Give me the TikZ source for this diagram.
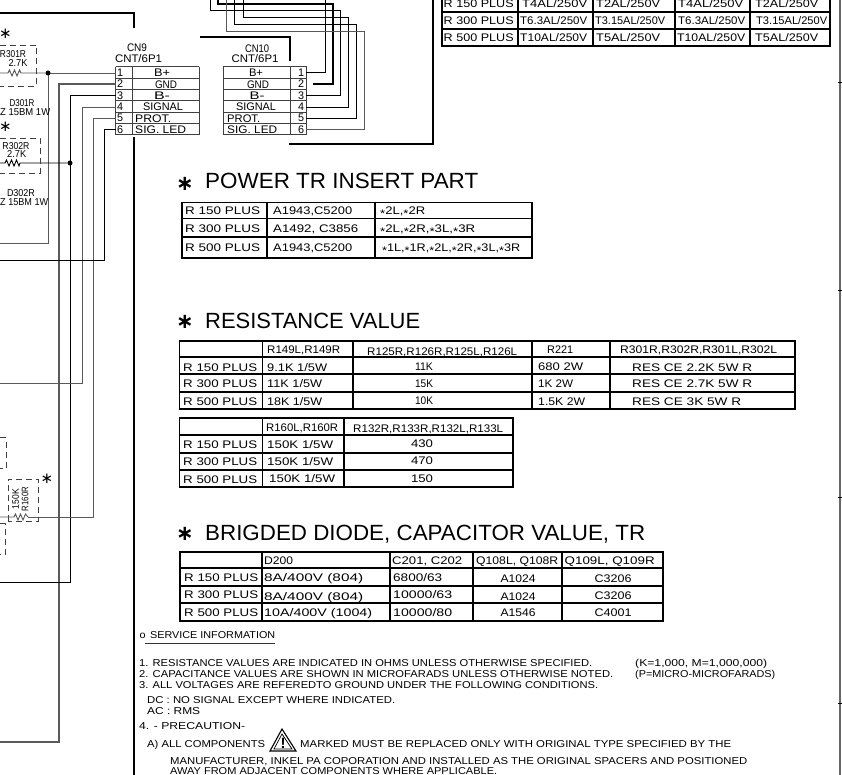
\documentclass[tikz,border=0pt]{standalone}
\usepackage{graphicx}
\usepackage{fontspec}
\setmainfont{Liberation Sans}
\newfontfamily\djv{DejaVu Sans}
\newcounter{tn}
\newcommand\tx[5][]{\stepcounter{tn}\node[txt,#1] (t\arabic{tn}) at (#2,#3) {\resizebox{#4pt}{\height}{#5}};}
\newcommand\cx[5][]{\tx[anchor=base,#1]{#2}{#3}{#4}{#5}}
\newcommand\st{\raisebox{-.22em}{*}}
\tikzset{
  x=1pt,y=-1pt,
  txt/.style={inner sep=0pt,anchor=base west,yshift=-4pt,font=\fontsize{11}{12}\selectfont,text=black},
  small/.style={yshift=.4pt,font=\fontsize{10}{11}\selectfont},
  big/.style={yshift=-4pt,font=\fontsize{22}{24}\selectfont},
  tbl/.style={line width=1.7pt,black,line cap=rect},
  conn/.style={line width=1pt,black!75},
  wire/.style={line width=.9pt,black!65},
  wireb/.style={line width=.9pt,black},
  wirebb/.style={line width=1.7pt,black},
  frame/.style={line width=2pt,black},
  dbox/.style={line width=.9pt,black!75,dash pattern=on 6pt off 4pt},
  dot/.style={circle,fill=black,inner sep=0pt,minimum size=5pt},
  star/.style={inner sep=0pt,font=\djv\fontsize{15}{15}\selectfont},
  bstar/.style={inner sep=0pt,font=\djv\bfseries\fontsize{21}{21}\selectfont},
}
\begin{document}
\begin{tikzpicture}
\useasboundingbox (0,0) rectangle (842,775);
% frames
\coordinate (fa) at (0,13); \coordinate (fb) at (134,28); \coordinate (fc) at (134,137); \coordinate (fd) at (134,775);
\draw[frame] (fa) -- (134,13) -- (fb);
\draw[frame] (fc) -- (fd);
\coordinate (fe) at (200,37.5); \coordinate (ff) at (290,61);
\draw[frame] (fe) -- (290,37.5) -- (ff);
\coordinate (fg) at (289,144.5); \coordinate (fh) at (433,0);
\draw[frame] (fg) -- (433,144.5) -- (fh);
% right border
\coordinate (ra) at (840,0); \coordinate (rb) at (840,775);
\draw[line width=1.5pt,black!60] (ra) -- (rb);
\foreach \yy in {82,290,497,703} {\draw[line width=.8pt,black] (838,\yy) -- (842,\yy);}

% CN9
\foreach \yy in {67,78.5,90,101,112.7,124,135} {\draw[conn] (115.7,\yy) -- (199,\yy);}
\foreach \xx in {115.7,132.7,199} {\draw[conn] (\xx,67) -- (\xx,135);}
\cx{137}{48}{20}{CN9}
\cx{138.5}{59}{47}{CNT/6P1}
\foreach \n/\yy in {1/73,2/84,3/96,4/107,5/118,6/130} {\cx{120}{\yy}{6}{\n}}
\cx{162}{73}{16}{B+}
\cx{166}{85}{22}{GND}
\cx{162}{96}{16}{B-}
\cx{163}{107}{40}{SIGNAL}
\tx{135}{118.5}{36}{PROT.}
\tx{135}{130}{51}{SIG. LED}
% CN10
\foreach \yy in {67,78.5,90,101,112.7,124,135} {\draw[conn] (223,\yy) -- (306.5,\yy);}
\foreach \xx in {223,290,306.5} {\draw[conn] (\xx,67) -- (\xx,135);}
\cx{257}{49}{24}{CN10}
\cx{255}{59}{47}{CNT/6P1}
\foreach \n/\yy in {1/73,2/84,3/96,4/107,5/118,6/130} {\cx{301}{\yy}{6}{\n}}
\cx{256}{73}{14}{B+}
\cx{258}{85}{22}{GND}
\cx{257}{96}{15}{B-}
\cx{256}{107}{40}{SIGNAL}
\tx{227}{118.5}{33}{PROT.}
\tx{227}{130}{50}{SIG. LED}

% pin coordinates
\coordinate (a1) at (116,73); \coordinate (a2) at (116,84); \coordinate (a3) at (116,95);
\coordinate (a4) at (116,107); \coordinate (a5) at (116,118); \coordinate (a6) at (116,129);
\coordinate (b1) at (306,72); \coordinate (b2) at (313,84); \coordinate (b3) at (306,95.5);
\coordinate (b4) at (306,107); \coordinate (b5) at (306,118); \coordinate (b6) at (306,129);
% CN9 wires
\coordinate (e1) at (0,243); \coordinate (e2) at (0,742); \coordinate (e3) at (0,582);
\coordinate (e4) at (0,383); \coordinate (e5) at (0,517); \coordinate (e6) at (0,260);
\draw[wire] (a1) -- (48,73) -- (48,243) -- (e1);
\draw[wire,line width=1.1pt] (a2) -- (59,84) -- (59,742) -- (e2);
\draw[wireb] (a3) -- (70,95) -- (70,582) -- (e3);
\draw[wire] (a4) -- (82,107) -- (82,383) -- (e4);
\draw[wire] (a5) -- (93,118) -- (93,517) -- (28,517);
\draw[wireb] (a6) -- (104,129) -- (104,260) -- (e6);
% CN10 wires
\coordinate (g1) at (325,0); \coordinate (g2) at (218,0); \coordinate (g3) at (210.7,0);
\coordinate (g4) at (243.7,0); \coordinate (g5) at (234,0); \coordinate (g6) at (226.5,0);
\draw[wireb] (b1) -- (325,72) -- (g1);
\draw[wirebb] (b2) -- (333,84) -- (333,4) -- (218,4) -- (g2);
\draw[wireb] (b3) -- (340.5,95.5) -- (340.5,10.5) -- (210.7,10.5) -- (g3);
\draw[wireb] (b4) -- (348.7,107) -- (348.7,17) -- (243.7,17) -- (g4);
\draw[wireb] (b5) -- (356.7,118) -- (356.7,24) -- (234,24) -- (g5);
\draw[wire] (b6) -- (364,129) -- (364,31) -- (226.5,31) -- (g6);

% left components
\node[dot] (d1) at (48,73) {};
\node[dot] (d2) at (70,163) {};
\coordinate (r1l) at (0,73); \coordinate (r1r) at (21,73);
\coordinate (r2l) at (0,163); \coordinate (r2r) at (20,163);
\draw[wire] (r1l) -- (8,73) -- (9.5,70) -- (12,76) -- (14.5,70) -- (17,76) -- (19.5,70) -- (r1r) -- (d1);
\draw[wireb] (r2l) -- (5,163) -- (6.5,160) -- (9,166) -- (11.5,160) -- (14,166) -- (16.5,160) -- (19,166) -- (r2r) -- (d2);
\draw[dbox] (0,45) -- (36.7,45) -- (36.7,86) -- (0,86);
\draw[dbox] (0,138.5) -- (40,138.5) -- (40,173) -- (0,173);
\node[star] (s1) at (5.5,34) {∗};
\node[star] (s2) at (5.5,127) {∗};
\cx[small]{13}{54}{26}{R301R}
\cx[small]{18}{63}{19}{2.7K}
\cx[small]{22}{103}{25}{D301R}
\tx[small]{0}{112}{50}{Z 15BM 1W}
\cx[small]{16}{146}{27}{R302R}
\cx[small]{16.7}{154}{19}{2.7K}
\cx[small]{21}{193}{28}{D302R}
\tx[small]{0}{202}{48}{Z 15BM 1W}
% lower left
\draw[dbox] (0,437.5) -- (6,437.5) -- (6,468) -- (0,468);
\draw[dbox] (0,523.5) -- (5,523.5) -- (5,554) -- (0,554);
\draw[dbox] (8,521) -- (8,479) -- (38,479) -- (38,521) -- (8,521);
\draw[wire] (e5) -- (14,517) -- (15.5,514) -- (18,520) -- (20.5,514) -- (23,520) -- (25.5,514) -- (28,517);
\node[star] (s3) at (47,479) {∗};
\node[inner sep=0pt,rotate=90,font=\fontsize{9.5}{10}\selectfont,text=black] (v1) at (15.5,499) {\resizebox{20pt}{\height}{150K}};
\node[inner sep=0pt,rotate=90,font=\fontsize{9.5}{10}\selectfont,text=black] (v2) at (25,499) {\resizebox{24pt}{\height}{R160R}};

% fuse table
\foreach \yy in {12,29,46} {\draw[tbl] (442,\yy) -- (830,\yy);}
\foreach \xx in {442,518,593,675,750,830} {\draw[tbl] (\xx,0) -- (\xx,46);}
\tx{443.5}{3.5}{70}{R 150 PLUS}
\tx{443.5}{20.5}{70}{R 300 PLUS}
\tx{443.5}{37.5}{70}{R 500 PLUS}
\tx{522}{3.5}{65}{T4AL/250V}
\tx{596}{3.5}{64}{T2AL/250V}
\tx{678}{3.5}{65}{T4AL/250V}
\tx{755}{3.5}{63}{T2AL/250V}
\tx{520}{20.5}{67}{T6.3AL/250V}
\tx{595}{20.5}{70}{T3.15AL/250V}
\tx{678}{20.5}{67}{T6.3AL/250V}
\tx{756}{20.5}{71}{T3.15AL/250V}
\tx{520}{37.5}{67}{T10AL/250V}
\tx{596}{37.5}{64}{T5AL/250V}
\tx{677}{37.5}{68}{T10AL/250V}
\tx{755}{37.5}{63}{T5AL/250V}

% power TR
\node[bstar] (s4) at (185,184) {∗};
\tx[big]{205}{181}{273}{POWER TR INSERT PART}
\foreach \yy in {202.5,218.5,237,258} {\draw[tbl] (182,\yy) -- (532,\yy);}
\foreach \xx in {182,267,375,532} {\draw[tbl] (\xx,202.5) -- (\xx,258);}
\tx{185}{211}{75}{R 150 PLUS}
\tx{185}{229}{75}{R 300 PLUS}
\tx{185}{248}{75}{R 500 PLUS}
\tx{273}{211}{79}{A1943,C5200}
\tx{273}{229}{85}{A1492, C3856}
\tx{273}{248}{79}{A1943,C5200}
\tx{380}{211}{45}{\st 2L,\st 2R}
\tx{380}{229}{95}{\st 2L,\st 2R,\st 3L,\st 3R}
\tx{382}{248}{138}{\st 1L,\st 1R,\st 2L,\st 2R,\st 3L,\st 3R}

% resistance
\node[bstar] (s5) at (185,322) {∗};
\tx[big]{205}{320}{215}{RESISTANCE VALUE}
\foreach \yy in {341,356.7,374,391.7,409} {\draw[tbl] (179.5,\yy) -- (795,\yy);}
\foreach \xx in {179.5,262.5,353,531.7,610,795} {\draw[tbl] (\xx,341) -- (\xx,409);}
\tx{267}{349}{73}{R149L,R149R}
\tx{367}{351}{150}{R125R,R126R,R125L,R126L}
\tx{547}{349}{26}{R221}
\tx{620}{349}{157}{R301R,R302R,R301L,R302L}
\tx{183}{367}{74}{R 150 PLUS}
\tx{183}{383.5}{74}{R 300 PLUS}
\tx{183}{401}{74}{R 500 PLUS}
\tx{267}{367}{60}{9.1K 1/5W}
\tx{267}{383.5}{55}{11K 1/5W}
\tx{267}{401}{55}{18K 1/5W}
\cx{424}{366.5}{18}{11K}
\cx{424}{383}{18}{15K}
\cx{424}{400.5}{18}{10K}
\tx{538}{366.5}{45}{680 2W}
\tx{538}{383}{35}{1K 2W}
\tx{538}{401}{47}{1.5K 2W}
\tx{632}{367}{120}{RES CE 2.2K 5W R}
\tx{632}{383.5}{120}{RES CE 2.7K 5W R}
\tx{632}{401}{109}{RES CE 3K 5W R}

\foreach \yy in {418,435,452.7,470,487} {\draw[tbl] (179.5,\yy) -- (513,\yy);}
\foreach \xx in {179.5,262.5,344,513} {\draw[tbl] (\xx,418) -- (\xx,487);}
\tx{266}{427}{72}{R160L,R160R}
\tx{353}{428.5}{150}{R132R,R133R,R132L,R133L}
\tx{183}{444}{74}{R 150 PLUS}
\tx{183}{461.5}{74}{R 300 PLUS}
\tx{183}{479}{74}{R 500 PLUS}
\tx{267}{444}{66}{150K 1/5W}
\tx{267}{461.5}{66}{150K 1/5W}
\tx{269}{478.5}{66}{150K 1/5W}
\cx{422}{443.5}{22}{430}
\cx{422}{460.5}{22}{470}
\cx{422}{478}{22}{150}

% diode table
\node[bstar] (s6) at (185,534) {∗};
\tx[big]{205}{532}{440}{BRIGDED DIODE, CAPACITOR VALUE, TR}
\foreach \yy in {551.7,568.3,586,603,620.7} {\draw[tbl] (180,\yy) -- (663,\yy);}
\foreach \xx in {180,262.3,390,473,561.7,663} {\draw[tbl] (\xx,551.7) -- (\xx,620.7);}
\tx{264}{560}{29}{D200}
\tx{392}{560}{70}{C201, C202}
\tx{476}{560}{82}{Q108L, Q108R}
\tx{564.5}{560}{90}{Q109L, Q109R}
\tx{184}{577}{74}{R 150 PLUS}
\tx{184}{594.5}{74}{R 300 PLUS}
\tx{184}{612}{74}{R 500 PLUS}
\tx{264}{577}{99}{8A/400V (804)}
\tx{264}{596}{99}{8A/400V (804)}
\tx{264}{612.5}{108}{10A/400V (1004)}
\tx{393}{577}{49}{6800/63}
\tx{393}{594.5}{59}{10000/63}
\tx{393}{612}{59}{10000/80}
\cx{518}{578}{35}{A1024}
\cx{518}{596}{35}{A1024}
\cx{518}{612}{35}{A1546}
\cx{613}{578}{37}{C3206}
\cx{613}{595}{37}{C3206}
\cx{613}{612}{37}{C4001}

% service info
\tx[small]{139.5}{635}{6}{o}
\tx[small]{150}{635}{125}{SERVICE INFORMATION}
\coordinate (ua) at (145,643); \coordinate (ub) at (275,643);
\draw[line width=.9pt,black!80] (ua) -- (ub);
\tx[small]{139}{663}{453}{1. RESISTANCE VALUES ARE INDICATED IN OHMS UNLESS OTHERWISE SPECIFIED.}
\tx[small]{139}{674}{474}{2. CAPACITANCE VALUES ARE SHOWN IN MICROFARADS UNLESS OTHERWISE NOTED.}
\tx[small]{139}{685}{459}{3. ALL VOLTAGES ARE REFEREDTO GROUND UNDER THE FOLLOWING CONDITIONS.}
\tx[small]{635}{663}{132}{(K=1,000, M=1,000,000)}
\tx[small]{635}{674}{140}{(P=MICRO-MICROFARADS)}
\tx[small]{147}{700}{248}{DC : NO SIGNAL EXCEPT WHERE INDICATED.}
\tx[small]{147}{711}{53}{AC : RMS}
\tx[small]{139}{726}{106}{4. - PRECAUTION-}
\tx[small]{147}{744}{118}{A) ALL COMPONENTS}
\tx[small]{300}{744}{431}{MARKED MUST BE REPLACED ONLY WITH ORIGINAL TYPE SPECIFIED BY THE}
\tx[small]{170}{760.5}{577}{MANUFACTURER, INKEL PA COPORATION AND INSTALLED AS THE ORIGINAL SPACERS AND POSITIONED}
\tx[small]{170}{770.5}{327}{AWAY FROM ADJACENT COMPONENTS WHERE APPLICABLE.}
% warning triangle
\draw[line width=1.1pt,black,line join=miter] (270,751) -- (282,729) -- (296,751) -- cycle;
\draw[line width=.7pt,black] (274,749) -- (282,734) -- (292,749) -- cycle;
\node[inner sep=0pt,font=\bfseries\fontsize{15}{15}\selectfont] (ex) at (283,743) {!};
\end{tikzpicture}
\end{document}
